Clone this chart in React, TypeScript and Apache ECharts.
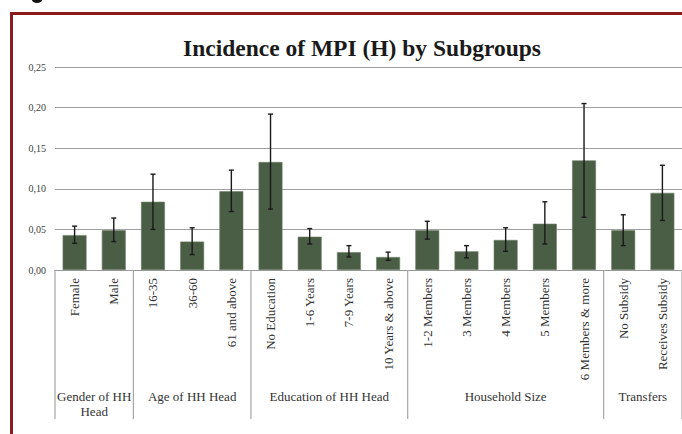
import React, { useEffect, useRef } from "react";
import * as echarts from "echarts";

const categories = [
  "Female", "Male",
  "16-35", "36-60", "61 and above",
  "No Education", "1-6 Years", "7-9 Years", "10 Years & above",
  "1-2 Members", "3 Members", "4 Members", "5 Members", "6 Members & more",
  "No Subsidy", "Receives Subsidy",
];
const values = [0.043, 0.049, 0.084, 0.035, 0.097, 0.133, 0.041, 0.022, 0.016, 0.049, 0.023, 0.037, 0.057, 0.135, 0.049, 0.095];
const errLow = [0.033, 0.035, 0.050, 0.019, 0.072, 0.075, 0.032, 0.016, 0.012, 0.038, 0.015, 0.023, 0.032, 0.065, 0.030, 0.061];
const errHigh = [0.054, 0.064, 0.118, 0.052, 0.123, 0.192, 0.051, 0.030, 0.022, 0.060, 0.030, 0.052, 0.084, 0.205, 0.068, 0.129];
const groupNames = ["Gender of HH\nHead", "Age of HH Head", "Education of HH Head", "Household Size", "Transfers"];
const groupSizes = [2, 3, 4, 5, 2];
const yTicks = [0, 0.05, 0.1, 0.15, 0.2, 0.25];

const SERIF = "'Liberation Serif', 'DejaVu Serif', serif";

export default function App() {
  const ref = useRef<HTMLDivElement>(null);
  useEffect(() => {
    if (!ref.current) return;
    const chart = echarts.init(ref.current, null, { renderer: "svg" });

    const groupData: number[][] = [];
    let start = 0;
    groupSizes.forEach((s) => {
      groupData.push([start, start + s - 1, 0]);
      start += s;
    });

    const option: any = {
      animation: false,
      backgroundColor: "#ffffff",
      title: {
        text: "Incidence of MPI (H) by Subgroups",
        left: 357,
        top: 31,
        textAlign: "center",
        textStyle: { fontFamily: SERIF, fontSize: 23.5, fontWeight: "bold", color: "#1a1a1a" },
      },
      graphic: [
        { type: "line", shape: { x1: 10, y1: 13.5, x2: 682, y2: 13.5 }, style: { stroke: "#8a1a1f", lineWidth: 3 }, z: 100 },
        { type: "line", shape: { x1: 11.5, y1: 12, x2: 11.5, y2: 434 }, style: { stroke: "#8a1a1f", lineWidth: 3 }, z: 100 },
        { type: "ellipse", shape: { cx: 37, cy: 0, rx: 5, ry: 3 }, style: { fill: "#111111" } },
      ],
      grid: { left: 55, top: 67, width: 631, height: 203, containLabel: false },
      xAxis: {
        type: "category",
        data: categories,
        axisLine: { show: true, lineStyle: { color: "#9a9a9a", width: 1 } },
        axisTick: { show: false },
        axisLabel: {
          rotate: 90,
          interval: 0,
          margin: 8,
          fontFamily: SERIF,
          fontSize: 13,
          color: "#333333",
        },
      },
      yAxis: {
        type: "value",
        min: yTicks[0],
        max: yTicks[yTicks.length - 1],
        interval: 0.05,
        axisLine: { show: false },
        axisTick: { show: false },
        splitLine: { lineStyle: { color: "#a0a0a0", width: 1 } },
        axisLabel: {
          formatter: (v: number) => v.toFixed(2).replace(".", ","),
          fontFamily: SERIF,
          fontSize: 10,
          color: "#404040",
          margin: 9,
        },
      },
      series: [
        {
          type: "bar",
          data: values,
          barWidth: "61%",
          itemStyle: { color: "#4a5d45", borderColor: "#6e7f69", borderWidth: 0.6 },
          z: 2,
        },
        {
          type: "custom",
          data: categories.map((c, i) => [i, errLow[i], errHigh[i]]),
          encode: { x: 0, y: [1, 2] },
          z: 5,
          renderItem: (params: any, api: any) => {
            const i = api.value(0);
            const lo = api.coord([i, api.value(1)]);
            const hi = api.coord([i, api.value(2)]);
            const cap = 2.5;
            const st = { stroke: "#1a1a1a", lineWidth: 1.4 };
            return {
              type: "group",
              children: [
                { type: "line", shape: { x1: lo[0], y1: lo[1], x2: hi[0], y2: hi[1] }, style: st },
                { type: "line", shape: { x1: lo[0] - cap, y1: lo[1], x2: lo[0] + cap, y2: lo[1] }, style: st },
                { type: "line", shape: { x1: hi[0] - cap, y1: hi[1], x2: hi[0] + cap, y2: hi[1] }, style: st },
              ],
            };
          },
        },
        {
          type: "custom",
          data: groupData,
          encode: { x: [0, 1], y: 2 },
          z: 5,
          clip: false,
          renderItem: (params: any, api: any) => {
            const idx = params.dataIndex;
            const band = api.size([1, 0])[0];
            const a = api.coord([api.value(0), api.value(2)]);
            const b = api.coord([api.value(1), api.value(2)]);
            const left = a[0] - band / 2;
            const right = b[0] + band / 2;
            const y0 = a[1];
            const children: any[] = [
              { type: "line", shape: { x1: left, y1: y0, x2: left, y2: y0 + 149 }, style: { stroke: "#a6a6a6", lineWidth: 1.2 } },
              {
                type: "text",
                x: (left + right) / 2,
                y: y0 + 119,
                style: {
                  text: groupNames[idx],
                  font: `13px ${SERIF}`,
                  fill: "#333333",
                  textAlign: "center",
                  textVerticalAlign: "top",
                  lineHeight: 15,
                },
              },
            ];
            if (idx === groupNames.length - 1) {
              children.push({ type: "line", shape: { x1: right, y1: y0, x2: right, y2: y0 + 149 }, style: { stroke: "#a6a6a6", lineWidth: 1.2 } });
            }
            return { type: "group", children };
          },
        },
      ],
    };
    chart.setOption(option);
    return () => chart.dispose();
  }, []);
  return <div ref={ref} style={{ position: "fixed", left: 0, top: 0, width: 682, height: 434 }} />;
}
